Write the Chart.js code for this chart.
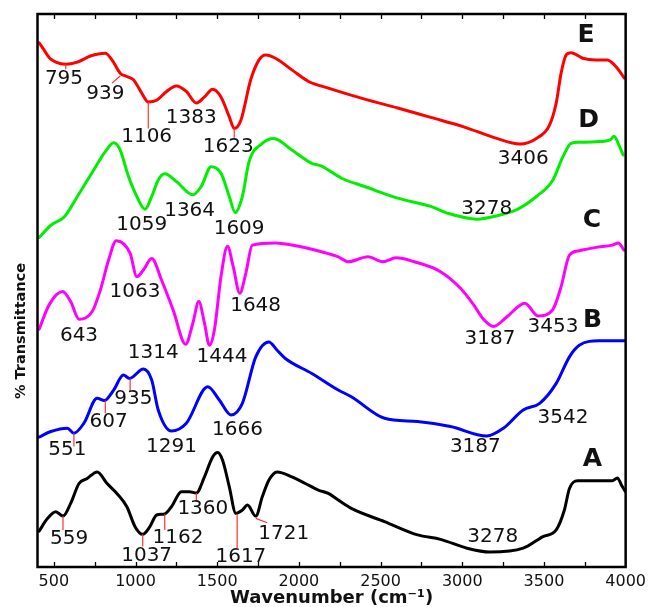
<!DOCTYPE html>
<html>
<head>
<meta charset="utf-8">
<title>FTIR spectra A–E</title>
<script src="https://cdn.jsdelivr.net/npm/chart.js@4.4.1/dist/chart.umd.min.js"></script>
<style>
  html, body { margin: 0; padding: 0; background: #fff; }
  #wrap { width: 651px; height: 607px; }
</style>
</head>
<body>
<div id="wrap"><canvas id="ftir" width="651" height="607"></canvas></div>
<script>
// ---- spectra: wavenumber (cm-1) and offset transmittance (%) ----
const waveA = [410, 462, 512, 556, 603, 654, 704, 765, 826, 886, 947, 997, 1044, 1088, 1129, 1179, 1220, 1281, 1331, 1372, 1422, 1472, 1503, 1533, 1574, 1614, 1654, 1685, 1736, 1776, 1816, 1867, 1957, 2039, 2119, 2180, 2241, 2321, 2524, 2726, 2867, 3029, 3170, 3373, 3494, 3575, 3625, 3656, 3707, 3919, 3949, 3975, 3999];
const transA = [6.5, 8.8, 10.0, 9.2, 11.5, 15.1, 16.0, 17.2, 15.1, 13.3, 10.9, 7.3, 5.9, 7.3, 9.4, 9.6, 10.9, 13.6, 13.6, 13.4, 16.3, 19.9, 20.7, 19.3, 14.5, 9.7, 10.3, 11.2, 9.2, 12.7, 15.7, 17.2, 16.3, 15.1, 13.9, 13.3, 12.1, 10.6, 8.2, 5.8, 5.0, 3.4, 2.7, 3.4, 5.5, 6.7, 10.3, 14.2, 15.6, 15.6, 16.1, 14.8, 13.6];

const waveB = [410, 482, 583, 623, 684, 765, 809, 866, 926, 963, 1048, 1099, 1139, 1220, 1311, 1442, 1513, 1584, 1654, 1736, 1816, 1867, 1917, 2079, 2241, 2321, 2524, 2726, 2928, 3150, 3252, 3373, 3474, 3575, 3656, 3716, 3838, 3995];
const transB = [23.5, 24.5, 25.1, 24.2, 26.0, 30.5, 30.1, 32.0, 34.7, 34.1, 35.8, 33.8, 28.4, 24.6, 26.0, 32.6, 30.2, 27.5, 29.6, 38.0, 40.7, 39.2, 37.7, 35.0, 32.0, 30.8, 26.9, 26.3, 25.4, 23.7, 25.1, 28.4, 29.6, 33.2, 38.0, 40.1, 40.9, 40.9];

const waveC = [410, 471, 553, 603, 654, 735, 785, 835, 882, 967, 1008, 1048, 1099, 1159, 1230, 1307, 1351, 1387, 1422, 1452, 1483, 1523, 1563, 1598, 1638, 1675, 1715, 1857, 1998, 2139, 2241, 2301, 2423, 2514, 2594, 2706, 2867, 2989, 3070, 3130, 3191, 3272, 3383, 3464, 3555, 3605, 3656, 3716, 3818, 3919, 3955, 3990];
const transC = [43.0, 47.4, 49.8, 48.0, 44.8, 46.2, 50.1, 55.5, 59.0, 56.7, 52.5, 53.7, 55.8, 51.9, 46.5, 40.3, 44.1, 48.0, 44.1, 40.1, 42.9, 52.5, 58.0, 54.3, 49.5, 53.1, 58.2, 58.6, 58.0, 57.0, 56.1, 55.2, 56.1, 55.2, 55.9, 55.2, 53.4, 50.4, 47.4, 44.8, 43.5, 45.2, 47.7, 45.4, 46.6, 50.7, 56.4, 57.2, 57.8, 58.2, 58.6, 57.3];

const waveD = [410, 482, 563, 644, 744, 815, 866, 906, 957, 1008, 1058, 1099, 1139, 1179, 1250, 1351, 1402, 1463, 1523, 1574, 1610, 1654, 1695, 1776, 1846, 1957, 2079, 2139, 2261, 2403, 2605, 2807, 2908, 3090, 3211, 3332, 3454, 3555, 3616, 3666, 3716, 3818, 3908, 3929, 3959, 3985];
const transD = [59.6, 61.8, 63.3, 67.0, 71.8, 75.1, 76.7, 75.4, 70.6, 67.0, 64.7, 67.0, 70.0, 71.1, 69.7, 67.3, 68.8, 72.4, 71.2, 67.0, 64.1, 67.0, 73.3, 76.6, 77.5, 75.4, 73.0, 72.5, 70.3, 68.8, 66.7, 65.2, 64.0, 62.9, 63.5, 64.6, 67.0, 70.0, 74.2, 76.6, 76.8, 76.9, 77.3, 77.9, 76.3, 74.5];

const waveE = [410, 440, 475, 512, 573, 644, 724, 815, 856, 906, 947, 987, 1038, 1078, 1129, 1190, 1250, 1311, 1372, 1422, 1472, 1523, 1574, 1604, 1645, 1705, 1756, 1796, 1857, 1957, 2059, 2180, 2403, 2605, 2807, 3009, 3211, 3352, 3454, 3534, 3575, 3605, 3636, 3666, 3737, 3818, 3889, 3908, 3949, 3992];
const transE = [94.8, 93.5, 92.0, 91.3, 90.9, 91.3, 92.4, 92.9, 91.7, 89.3, 88.7, 88.1, 85.7, 84.1, 84.4, 86.0, 87.0, 86.0, 83.9, 85.0, 86.4, 85.0, 81.4, 79.3, 80.8, 88.1, 91.7, 92.6, 92.0, 89.9, 87.8, 86.6, 84.6, 83.0, 81.3, 79.6, 77.5, 76.5, 77.5, 79.9, 83.9, 89.3, 92.6, 93.0, 92.0, 91.7, 91.7, 91.4, 90.2, 88.4];

// ---- axis ticks ----
const xTickLabels = [500, 1000, 1500, 2000, 2500, 3000, 3500, 4000];
const xMinorTicks = [750, 1250, 1750, 2250, 2750, 3250, 3750];

// ---- series names and peak labels ----
const seriesNames = ['A', 'B', 'C', 'D', 'E'];
const peaksA = ['559', '1037', '1162', '1360', '1617', '1721', '3278'];
const peaksB = ['551', '607', '935', '1291', '1666', '3187', '3542'];
const peaksC = ['643', '1063', '1314', '1444', '1648', '3187', '3453'];
const peaksD = ['1059', '1364', '1609', '3278'];
const peaksE = ['795', '939', '1106', '1383', '1623', '3406'];

// ---- layout of the annotations (wavenumber, transmittance) ----
const peakPosA = [[593, 5.5], [1068, 2.4], [1260, 5.7], [1412, 10.9], [1645, 2.2], [1907, 6.4], [3187, 5.8]];
const peakPosB = [[583, 21.5], [835, 26.7], [987, 30.8], [1220, 22.2], [1624, 25.1], [3080, 22.1], [3616, 27.3]];
const peakPosC = [[654, 42.1], [997, 50.1], [1108, 39.2], [1529, 38.3], [1735, 47.6], [3170, 41.6], [3555, 43.8]];
const peakPosD = [[1038, 62.2], [1331, 64.7], [1634, 61.5], [3150, 65.2]];
const peakPosE = [[562, 88.7], [815, 85.9], [1068, 78.1], [1341, 81.6], [1568, 76.3], [3373, 74.2]];
const namePos = [[3797, 19.9], [3797, 45.0], [3793, 63.1], [3773, 81.2], [3757, 96.6]];

// leader lines from a band to its label: [x1, y1, x2, y2]
const leaders = [
  [573, 90.9, 573, 90.0], [906, 88.8, 856, 87.5], [1078, 84.1, 1078, 79.3], [1604, 79.3, 1604, 77.6],
  [623, 24.2, 623, 21.8], [815, 30.1, 815, 27.8], [967, 34.1, 967, 31.7],
  [556, 9.2, 556, 6.7], [1044, 5.9, 1044, 3.7], [1179, 9.6, 1179, 6.7], [1372, 13.4, 1372, 12.1],
  [1622, 9.6, 1622, 3.4], [1736, 8.8, 1806, 8.0]
];

const colors = ['#000000', '#0000ff', '#ff00ff', '#00ee00', '#ff0000'];
const waves = [waveA, waveB, waveC, waveD, waveE];
const trans = [transA, transB, transC, transD, transE];
const peakTexts = [peaksA, peaksB, peaksC, peaksD, peaksE];
const peakPos = [peakPosA, peakPosB, peakPosC, peakPosD, peakPosE];

const FONT = '"DejaVu Sans", Verdana, sans-serif';
Chart.defaults.font.family = FONT;

const datasets = seriesNames.map((name, i) => ({
  label: name,
  data: waves[i].map((w, k) => ({ x: w, y: trans[i][k] })),
  borderColor: colors[i],
  borderWidth: 3,
  pointRadius: 0,
  fill: false,
  cubicInterpolationMode: 'monotone',
  borderJoinStyle: 'round',
  borderCapStyle: 'round'
}));

// text whose visual centre sits at (px, py)
function centeredText(ctx, text, px, py, size) {
  ctx.textAlign = 'center';
  ctx.textBaseline = 'alphabetic';
  ctx.fillText(text, px, py + 0.3645 * size);
}

const overlay = {
  id: 'overlay',
  afterDraw(chart) {
    const { ctx, chartArea: a, scales: { x, y } } = chart;
    ctx.save();

    // leader lines
    ctx.strokeStyle = '#ff3030';
    ctx.lineWidth = 1.2;
    leaders.forEach(([x1, y1, x2, y2]) => {
      ctx.beginPath();
      ctx.moveTo(x.getPixelForValue(x1), y.getPixelForValue(y1));
      ctx.lineTo(x.getPixelForValue(x2), y.getPixelForValue(y2));
      ctx.stroke();
    });

    // band labels
    ctx.fillStyle = '#111';
    ctx.font = '20px ' + FONT;
    peakTexts.forEach((texts, i) => {
      texts.forEach((t, k) => {
        const [wx, wy] = peakPos[i][k];
        centeredText(ctx, t, x.getPixelForValue(wx), y.getPixelForValue(wy), 20);
      });
    });

    // series letters
    ctx.font = 'bold 25px ' + FONT;
    seriesNames.forEach((n, i) => {
      const [wx, wy] = namePos[i];
      centeredText(ctx, n, x.getPixelForValue(wx), y.getPixelForValue(wy), 25);
    });

    // frame
    ctx.strokeStyle = '#000';
    ctx.lineWidth = 2.5;
    ctx.strokeRect(a.left, a.top, a.right - a.left, a.bottom - a.top);

    // inward tick marks on top and bottom edges
    ctx.lineWidth = 1.3;
    xTickLabels.concat(xMinorTicks).forEach(v => {
      if (v >= 4000) return;
      const px = Math.round(x.getPixelForValue(v)) + 0.5;
      ctx.beginPath();
      ctx.moveTo(px, a.top); ctx.lineTo(px, a.top + 5);
      ctx.moveTo(px, a.bottom); ctx.lineTo(px, a.bottom - 5);
      ctx.stroke();
    });

    // y-axis title
    ctx.fillStyle = '#111';
    ctx.font = 'bold 14.5px ' + FONT;
    ctx.translate(20, 331);
    ctx.rotate(-Math.PI / 2);
    centeredText(ctx, '% Transmittance', 0, 0, 14.5);
    ctx.restore();
  }
};

new Chart(document.getElementById('ftir'), {
  type: 'line',
  data: { datasets },
  options: {
    responsive: false,
    animation: false,
    devicePixelRatio: 1,
    layout: { padding: { top: 14, right: 21, bottom: 0, left: 0 } },
    plugins: { legend: { display: false }, tooltip: { enabled: false } },
    scales: {
      x: {
        type: 'linear',
        min: 400,
        max: 4000,
        afterBuildTicks: s => { s.ticks = xTickLabels.map(v => ({ value: v })); },
        afterFit: s => { s.height = 40; },
        grid: { display: false, drawTicks: false },
        border: { display: false },
        ticks: {
          color: '#111',
          font: { size: 16 },
          padding: 5,
          maxRotation: 0,
          autoSkip: false,
          callback: v => String(v)
        },
        title: {
          display: true,
          text: 'Wavenumber (cm⁻¹)',
          color: '#111',
          font: { size: 18, weight: 'bold' },
          padding: { top: 0, bottom: -2 }
        }
      },
      y: {
        min: 0,
        max: 100,
        afterFit: s => { s.width = 37.5; },
        ticks: { display: false },
        grid: { display: false, drawTicks: false },
        border: { display: false }
      }
    }
  },
  plugins: [overlay]
});
</script>
</body>
</html>
